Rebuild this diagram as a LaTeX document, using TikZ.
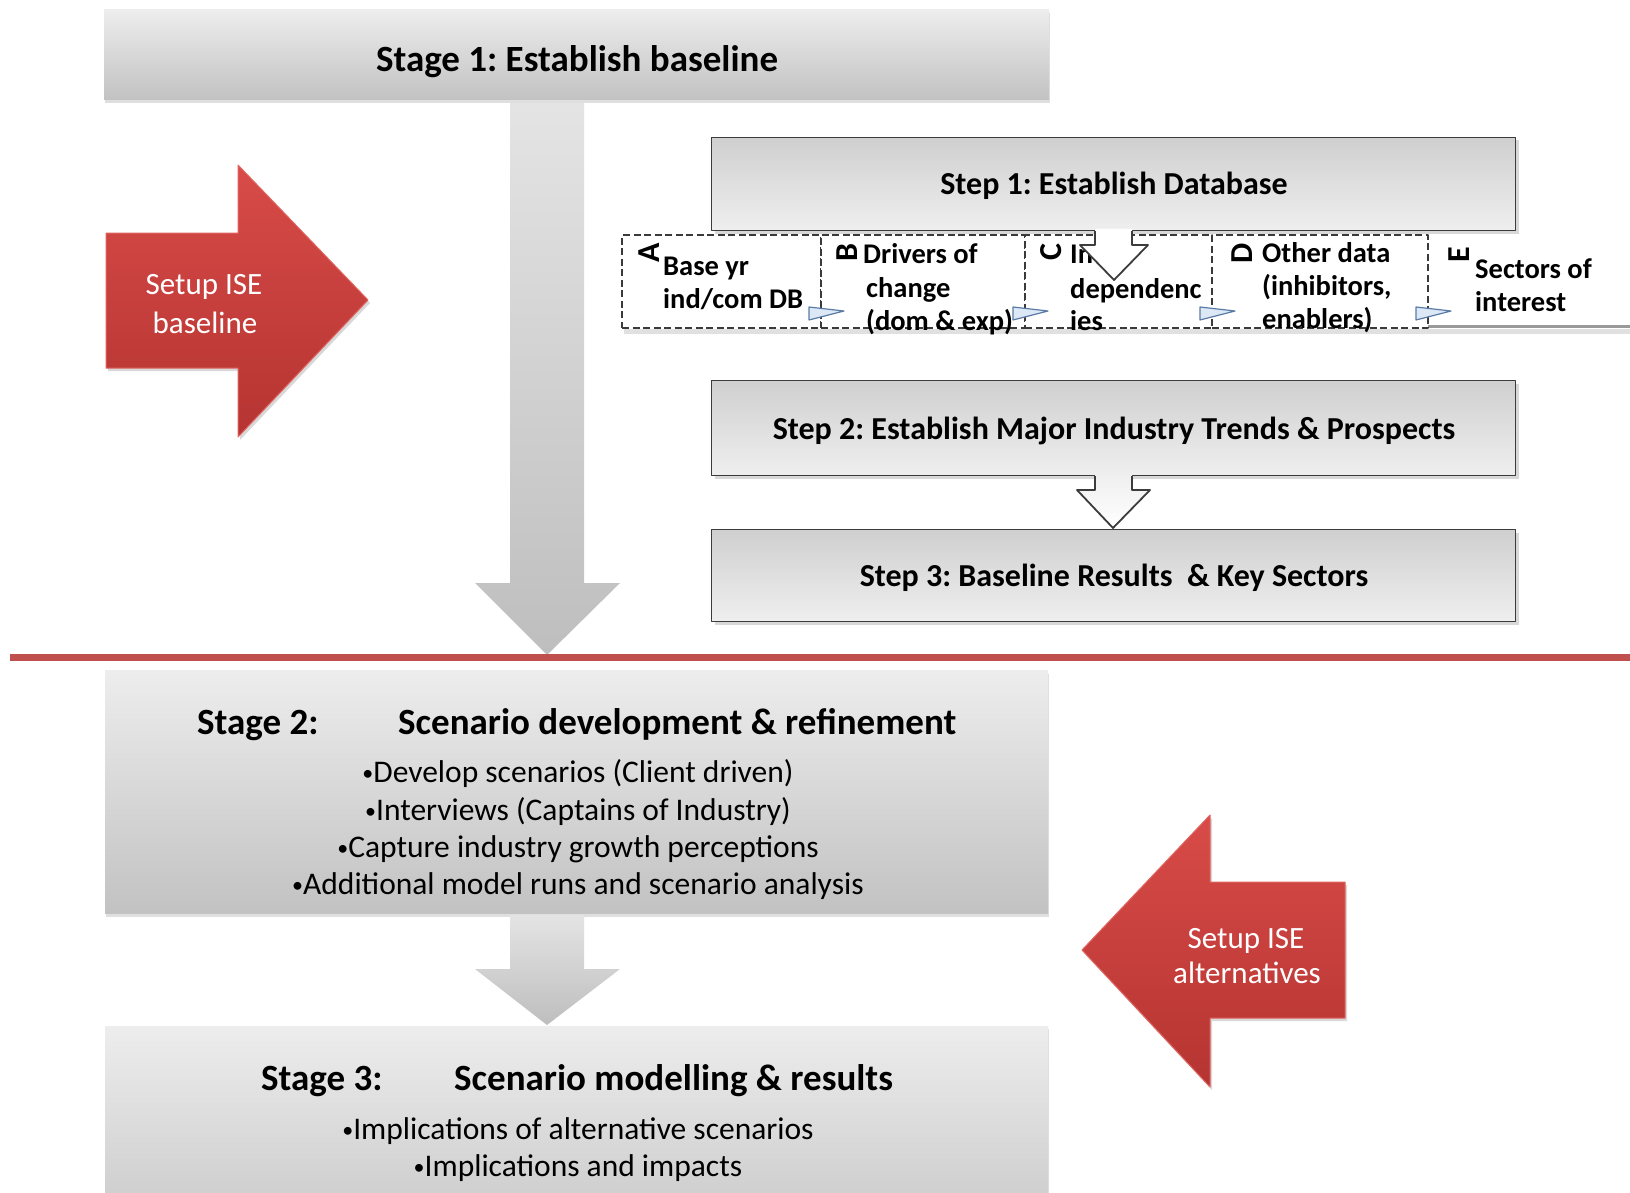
\documentclass[tikz,border=0pt]{standalone}
\usepackage{fontspec}
\setmainfont{Carlito}
\usetikzlibrary{shadows}
\frenchspacing

\definecolor{stgtop}{HTML}{EDEDED}
\definecolor{stgbot}{HTML}{C2C2C2}
\definecolor{steptop}{HTML}{CFCFCF}
\definecolor{stepbot}{HTML}{EFEFEF}
\definecolor{stepline}{HTML}{3C3C3C}
\definecolor{dashcol}{HTML}{3A3A3A}
\definecolor{arrtop}{HTML}{E4E4E4}
\definecolor{arrbot}{HTML}{BEBEBE}
\definecolor{redtop}{HTML}{D84B48}
\definecolor{redbot}{HTML}{B53431}
\definecolor{redrim}{HTML}{E06460}
\definecolor{divline}{HTML}{C0504D}
\definecolor{flagfill}{HTML}{DCE8F5}
\definecolor{flagline}{HTML}{5A7BA5}

\newcommand\smallbullet{{\fontsize{22}{22}\selectfont\raisebox{2pt}{•}}}

\tikzset{
  stagebox/.style={draw=none, inner sep=0pt, top color=stgtop, bottom color=stgbot,
    drop shadow={shadow xshift=1pt, shadow yshift=-3pt, opacity=0.25}},
  stepbox/.style={draw=stepline, line width=1.8pt, inner sep=0pt,
    top color=steptop, bottom color=stepbot,
    drop shadow={shadow xshift=3pt, shadow yshift=-3pt, opacity=0.3}},
  dbox/.style={draw=dashcol, line width=2.6pt, dash pattern=on 7pt off 3.5pt,
    fill=white, inner sep=0pt},
  grayarrow/.style={top color=arrtop, bottom color=arrbot, draw=none},
  redarrow/.style={top color=redtop, bottom color=redbot, draw=redrim, line width=1pt,
    drop shadow={shadow xshift=2pt, shadow yshift=-3pt, opacity=0.3}},
  hollowfill/.style={fill=white, draw=none},
  hollowline/.style={draw=stepline, line width=1.8pt},
  stagettl/.style={inner sep=0pt, anchor=base, font=\fontsize{37}{44}\selectfont\bfseries},
  stagettlw/.style={inner sep=0pt, anchor=base west, font=\fontsize{37}{44}\selectfont\bfseries},
  stepttl/.style={inner sep=0pt, anchor=base, font=\fontsize{32}{38}\selectfont\bfseries},
  bullet/.style={inner sep=0pt, anchor=base, font=\fontsize{31.5}{38}\selectfont},
  redtxt/.style={inner sep=0pt, anchor=base, text=white, font=\fontsize{31}{37}\selectfont},
  dtxt/.style={inner sep=0pt, anchor=base west, font=\fontsize{28.5}{34}\selectfont\bfseries},
  letter/.style={inner sep=0pt, rotate=90, font=\fontsize{32}{38}\selectfont\bfseries},
  cornerflag/.pic={\filldraw[fill=flagfill, draw=flagline, line width=1.2pt, line join=round]
      (-12,-4) -- (23,0) -- (-12,9) -- cycle;}
}

\begin{document}
\begin{tikzpicture}[x=1pt, y=-1pt, line join=round]
\useasboundingbox[fill=white] (0,0) rectangle (1630,1193);

% ---------- Stage 1 ----------
\node[stagebox, minimum width=945pt, minimum height=90pt] (stage1) at (576.5,55) {};
\node[stagettl] (stage1t) at (577,72) {Stage 1: Establish baseline};

% main downward arrow of stage 1
\path[grayarrow] (510,103) -- (584,103) -- (584,583) -- (620,583) -- (547,655)
  -- (475,583) -- (510,583) -- cycle;

% ---------- red arrow: baseline ----------
\path[redarrow] (106,233) -- (238,233) -- (238,165) -- (368,300) -- (238,437)
  -- (238,368) -- (106,368) -- cycle;
\node[redtxt] (setupb1) at (204,294) {Setup ISE};
\node[redtxt] (setupb2) at (205,333) {baseline};

% ---------- database items ----------
\fill[black, opacity=0.12] (624,329) rectangle (1630,334);
\draw[gray!80, line width=2.5pt] (1428,326.5) -- (1630,326.5);
\node[dbox, minimum width=199pt, minimum height=93pt] (boxA) at (721.5,281.5) {};
\node[dbox, minimum width=204pt, minimum height=93pt] (boxB) at (923,281.5) {};
\node[dbox, minimum width=187pt, minimum height=93pt] (boxC) at (1118.5,281.5) {};
\node[dbox, minimum width=216pt, minimum height=93pt] (boxD) at (1320,281.5) {};

\node[letter] (lA) at (649,253) {A};
\node[dtxt] (a1) at (663,275) {Base yr};
\node[dtxt] (a2) at (663,308) {ind/com DB};

\node[letter] (lB) at (847,253) {B};
\node[dtxt] (b1) at (863,263) {Drivers of};
\node[dtxt] (b2) at (866,297) {change};
\node[dtxt] (b3) at (866,330) {(dom \& exp)};

\node[letter] (lC) at (1051,252) {C};
\node[dtxt] (c1) at (1070,263) {Inter};
\node[dtxt] (c2) at (1070,298) {dependenc};
\node[dtxt] (c3) at (1070,330) {ies};

\node[letter] (lD) at (1242,253) {D};
\node[dtxt] (d1) at (1262,262) {Other data};
\node[dtxt] (d2) at (1262,295) {(inhibitors,};
\node[dtxt] (d3) at (1262,328) {enablers)};

\node[letter] (lE) at (1459,255) {E};
\node[dtxt] (e1) at (1475,278) {Sectors of};
\node[dtxt] (e2) at (1475,311) {interest};

\pic (flagAB) at (821,311) {cornerflag};
\pic (flagBC) at (1025,311) {cornerflag};
\pic (flagCD) at (1212,311) {cornerflag};
\pic (flagDE) at (1428,311) {cornerflag};

% ---------- steps ----------
\node[stepbox, minimum width=804pt, minimum height=93pt] (step1) at (1113.5,184) {};
\node[stepttl] (step1t) at (1114,195) {Step 1: Establish Database};

% hollow arrow from step 1 into the items
\path[hollowfill] (1095,229) -- (1095,245) -- (1080,245) -- (1114,280) -- (1148,245)
  -- (1132,245) -- (1132,229) -- cycle;
\draw[hollowline] (1095,231) -- (1095,245) -- (1080,245) -- (1114,280) -- (1148,245)
  -- (1132,245) -- (1132,231);

\node[stepbox, minimum width=804pt, minimum height=95pt] (step2) at (1113.5,428) {};
\node[stepttl] (step2t) at (1114,439) {Step 2: Establish Major Industry Trends \& Prospects};

\node[stepbox, minimum width=804pt, minimum height=92pt] (step3) at (1113.5,575.5) {};
\node[stepttl] (step3t) at (1114,586) {Step 3: Baseline Results\ \ \& Key Sectors};

% hollow arrow from step 2 to step 3
\path[top color=stepbot, bottom color=white] (1095,474) -- (1095,490) -- (1077,490)
  -- (1113,528) -- (1150,490) -- (1132,490) -- (1132,474) -- cycle;
\draw[hollowline] (1095,476) -- (1095,490) -- (1077,490) -- (1113,528) -- (1150,490)
  -- (1132,490) -- (1132,476);

% ---------- divider ----------
\draw[divline, line width=7pt] (10,657) -- (1630,657);

% ---------- Stage 2 ----------
\node[stagebox, minimum width=943pt, minimum height=243pt] (stage2) at (576.5,792) {};
\node[stagettlw] (stage2a) at (197,734) {Stage 2:};
\node[stagettlw] (stage2b) at (398,734) {Scenario development \& refinement};
\node[bullet] (s2b1) at (578,782) {\smallbullet Develop scenarios (Client driven)};
\node[bullet] (s2b2) at (578,820) {\smallbullet Interviews (Captains of Industry)};
\node[bullet] (s2b3) at (578,857) {\smallbullet Capture industry growth perceptions};
\node[bullet] (s2b4) at (578,894) {\smallbullet Additional model runs and scenario analysis};

% arrow from stage 2 to stage 3
\path[grayarrow] (510,915) -- (584,915) -- (584,969) -- (620,969) -- (547,1025)
  -- (475,969) -- (510,969) -- cycle;

% ---------- Stage 3 ----------
\node[stagebox, minimum width=943pt, minimum height=243pt] (stage3) at (576.5,1147.5) {};
\node[stagettlw] (stage3a) at (261,1090) {Stage 3:};
\node[stagettlw] (stage3b) at (454,1090) {Scenario modelling \& results};
\node[bullet] (s3b1) at (578,1139) {\smallbullet Implications of alternative scenarios};
\node[bullet] (s3b2) at (578,1176) {\smallbullet Implications and impacts};

% ---------- red arrow: alternatives ----------
\path[redarrow] (1345,882) -- (1210,882) -- (1210,815) -- (1082,950) -- (1210,1087)
  -- (1210,1018) -- (1345,1018) -- cycle;
\node[redtxt] (setupa1) at (1246,948) {Setup ISE};
\node[redtxt] (setupa2) at (1247,983) {alternatives};

\end{tikzpicture}
\end{document}
